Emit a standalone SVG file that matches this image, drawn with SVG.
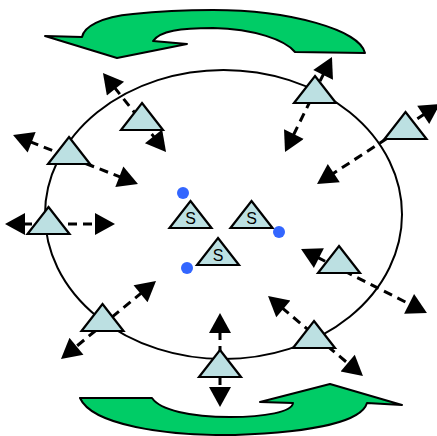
<svg xmlns="http://www.w3.org/2000/svg" width="437" height="436" viewBox="0 0 437 436">
<style>
.big{fill:#00CC66;stroke:#000;stroke-width:2;stroke-linejoin:round}
.ring{fill:none;stroke:#000;stroke-width:2}
.tri{fill:#BCE0E2;stroke:#000;stroke-width:2.2;stroke-linejoin:miter}
.con{stroke:#000;stroke-width:3;stroke-dasharray:9 6;fill:none;marker-start:url(#ah);marker-end:url(#ah)}
.dot{fill:#3366FF}
.lbl{font-family:"Liberation Sans",Arial,sans-serif;font-size:16px;fill:#000;text-anchor:middle}
</style>
<defs>
<marker id="ah" markerUnits="userSpaceOnUse" markerWidth="22" markerHeight="22" viewBox="0 0 20 22" refX="2" refY="11" orient="auto-start-reverse">
<path d="M0,0 L20,11 L0,22 z" fill="#000"/>
</marker>
<polygon id="t" points="0,0 21,27 -21,27"/>
</defs>
<rect width="437" height="436" fill="#fff"/>
<ellipse class="ring" cx="223.5" cy="214.5" rx="178.5" ry="144.5"/>
<path class="big" d="M45,36 L82,37 C84,27 100,17 133,14 C170,10 190,10 213,10 C290,10 360,30 365,53 L295,52 C285,40 255,29 213,28 C180,28 160,31 153,41 L187,44 L117,58 Z"/>
<path class="big" d="M80,398 L152,398 C160,410 190,417 230,417 C265,417 292,412 293,403 L260,402 L330,384 L402,405 L367,403 C362,420 320,432 235,435 C165,436 92,425 80,398 Z"/>
<g id="connectors">
<line class="con" x1="114.2" y1="87.1" x2="154.8" y2="137.9"/>
<line class="con" x1="29.8" y1="141.6" x2="121.2" y2="177.4"/>
<line class="con" x1="23" y1="224" x2="97" y2="224"/>
<line class="con" x1="324" y1="73.1" x2="293" y2="135.9"/>
<line class="con" x1="424.9" y1="113.8" x2="332.1" y2="174.2"/>
<line class="con" x1="317.1" y1="257.2" x2="410.9" y2="304.8"/>
<line class="con" x1="142.1" y1="292.4" x2="74.9" y2="347.6"/>
<line class="con" x1="220" y1="331" x2="220" y2="389"/>
<line class="con" x1="281.8" y1="307.6" x2="349.2" y2="364.4"/>
</g>
<g id="nodeA"><use href="#t" class="tri" x="142" y="103"/></g>
<g id="nodeB"><use href="#t" class="tri" x="69" y="137"/></g>
<g id="nodeC"><use href="#t" class="tri" x="48.5" y="207"/></g>
<g id="nodeD"><use href="#t" class="tri" x="315" y="76"/></g>
<g id="nodeE"><use href="#t" class="tri" x="405.5" y="112"/></g>
<g id="nodeF"><use href="#t" class="tri" x="339" y="246"/></g>
<g id="nodeG"><use href="#t" class="tri" x="102.5" y="304"/></g>
<g id="nodeH"><use href="#t" class="tri" x="220" y="350"/></g>
<g id="nodeI"><use href="#t" class="tri" x="314" y="321"/></g>
<g id="s1"><use href="#t" class="tri" x="190.5" y="201"/><text class="lbl" x="190.5" y="224">S</text></g>
<g id="s2"><use href="#t" class="tri" x="251.5" y="201"/><text class="lbl" x="251.5" y="224">S</text></g>
<g id="s3"><use href="#t" class="tri" x="218" y="238"/><text class="lbl" x="218" y="261">S</text></g>
<g id="dot1"><circle class="dot" cx="183" cy="193" r="6"/></g>
<g id="dot2"><circle class="dot" cx="279" cy="232" r="6"/></g>
<g id="dot3"><circle class="dot" cx="187" cy="268" r="6"/></g>
</svg>
